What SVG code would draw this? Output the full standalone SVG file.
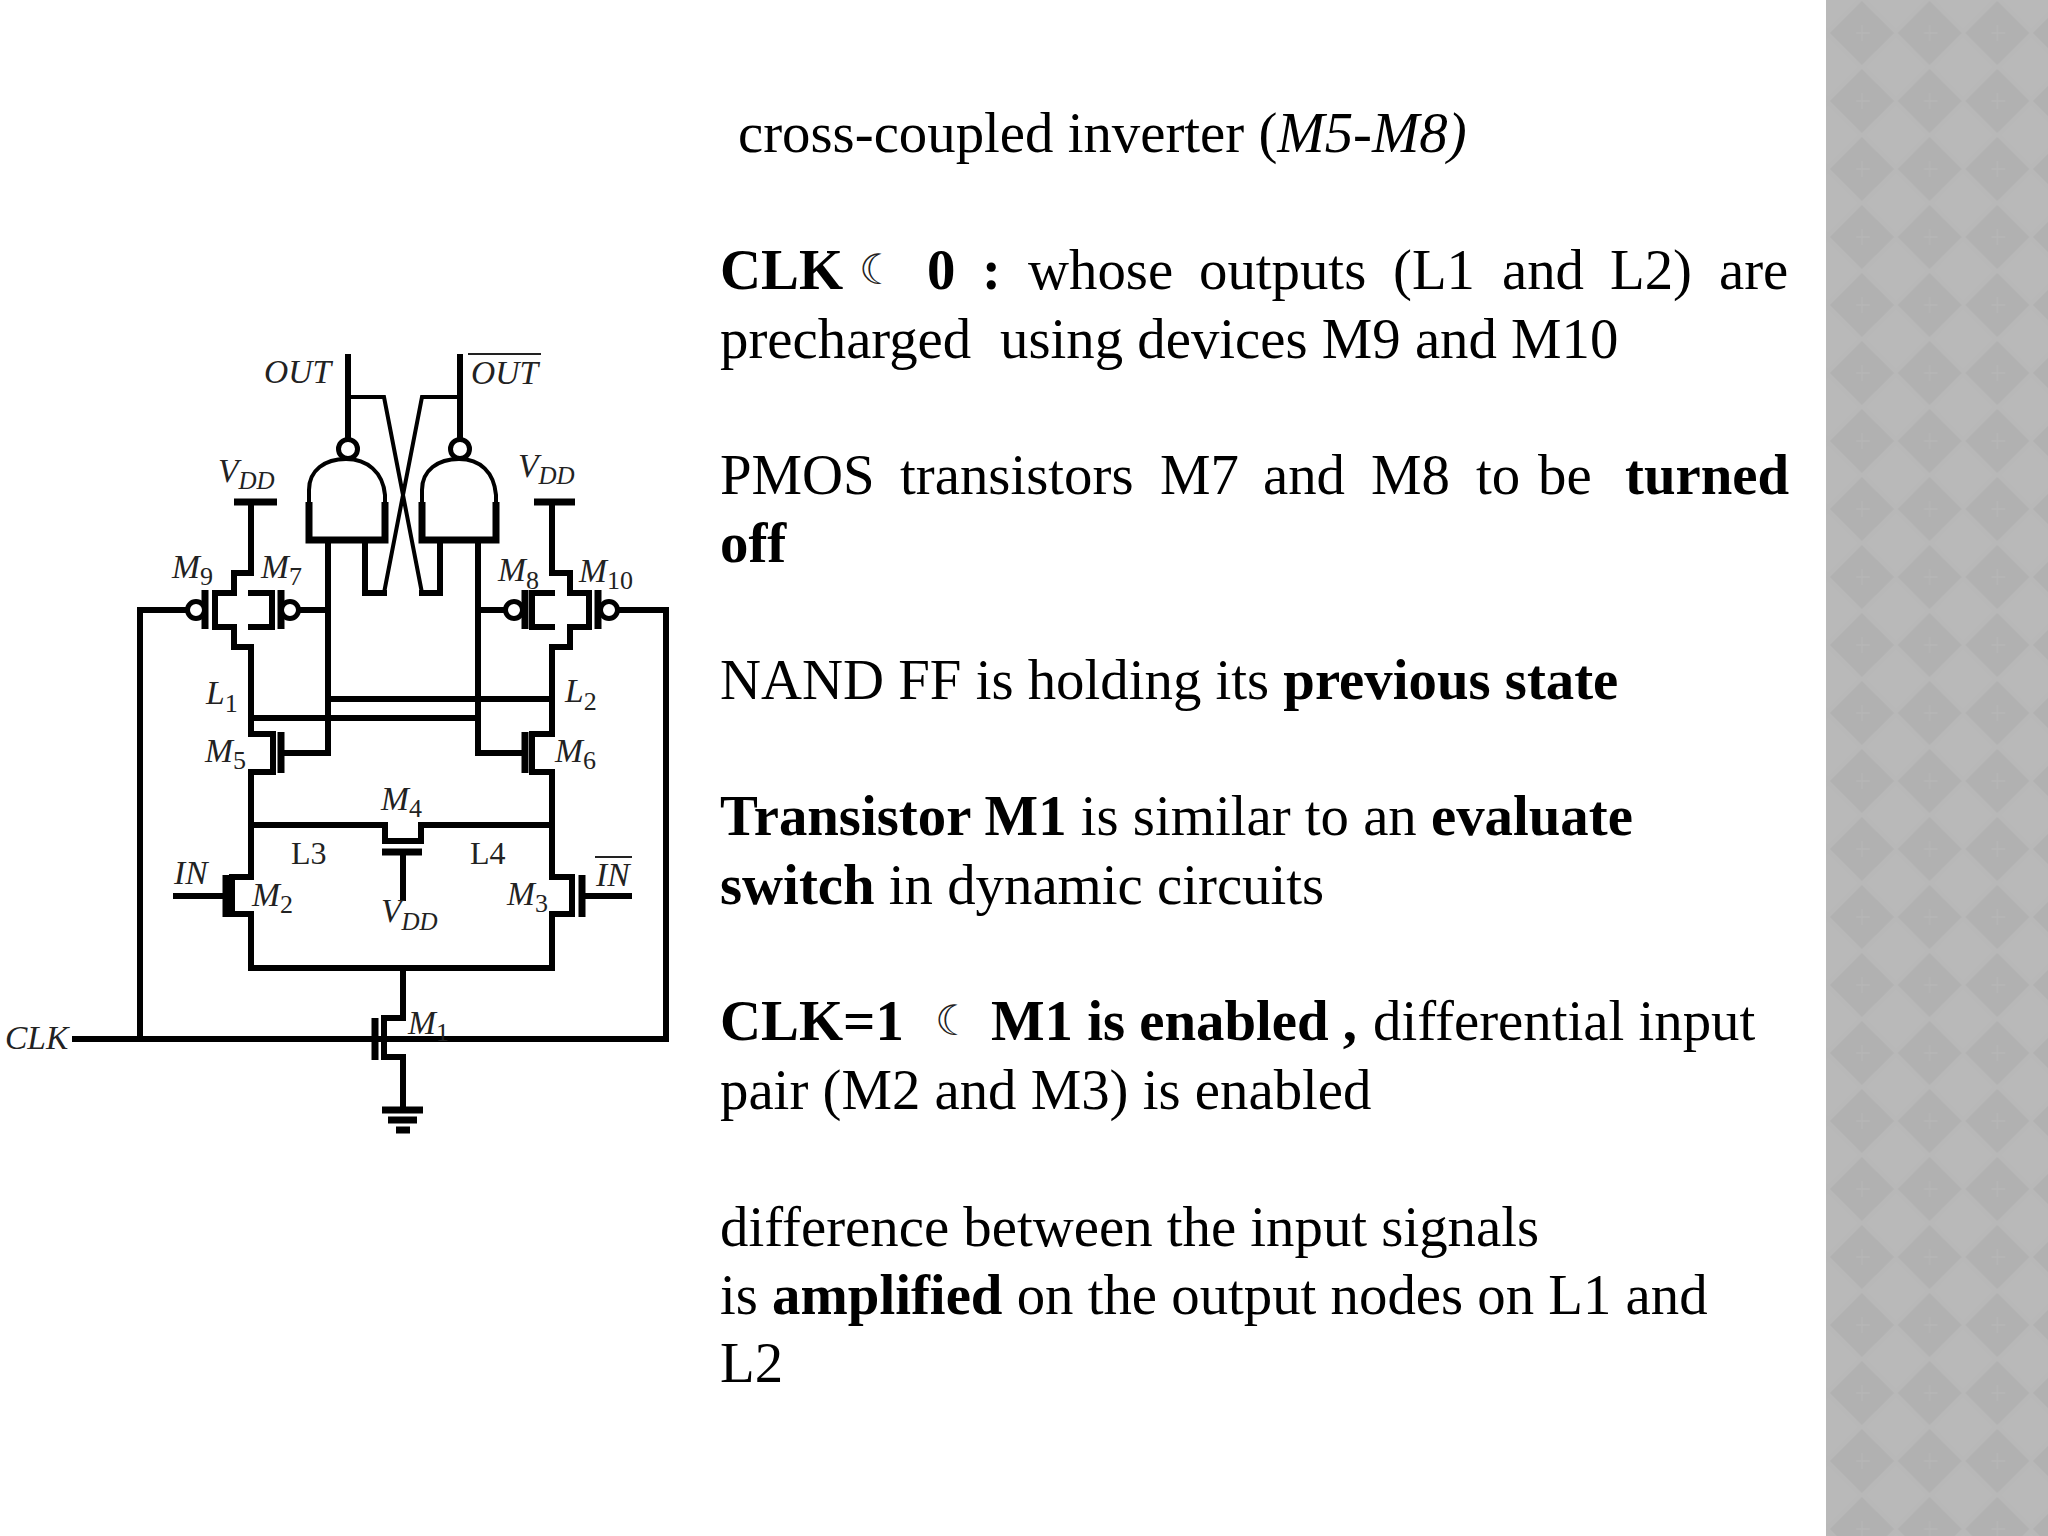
<svg xmlns="http://www.w3.org/2000/svg" width="2048" height="1536" viewBox="0 0 2048 1536">
<style>
.w{fill:none;stroke:#000;stroke-width:6;stroke-linecap:square;stroke-linejoin:miter}
.t{fill:none;stroke:#000;stroke-width:4}
.p{fill:none;stroke:#000;stroke-width:7}
.b{fill:#fff;stroke:#000;stroke-width:5}
.l{font-family:"Liberation Serif","Times New Roman",serif;font-style:italic;font-size:33.5px;fill:#222}
.s{font-size:25px}
.n{font-size:26px;font-style:normal}
.r{font-family:"Liberation Serif","Times New Roman",serif;font-size:32px;fill:#222}
.m{font-family:"Liberation Serif","Times New Roman",serif;font-size:56.8px;fill:#000}
.m .h{font-weight:bold}
.m .i{font-style:italic}
.moon{font-family:"DejaVu Sans",sans-serif;font-size:42px;fill:#222}
</style>
<defs>
<pattern id="dia" x="1828" y="-1" width="67.7" height="68" patternUnits="userSpaceOnUse">
<rect width="67.7" height="68" fill="#b8b8b8"/>
<path d="M33.8 2 L66 34 L33.8 66 L2 34Z" fill="#b1b1b1"/>
<path d="M0 -30 L30 0 L0 30 L-30 0ZM67.7 -30 L97 0 L67.7 30 L38 0ZM0 38 L30 68 L0 98 L-30 68ZM67.7 38 L97 68 L67.7 98 L38 68Z" fill="#b9b9b9"/>
<path d="M34 26V42M28 34H42" stroke="#b6b6b6" stroke-width="1.5" fill="none"/>
</pattern>
</defs>
<rect width="2048" height="1536" fill="#fff"/>
<rect id="panel" x="1826" y="0" width="222" height="1536" fill="url(#dia)"/>

<g id="connectors">
<path class="w" d="M348 357V440M460 357V440"/>
<path class="t" d="M348 397H384L422 593M460 397H422L384 593"/>
<path class="w" d="M365 540V593H384M440 540V593H422"/>
<path class="w" d="M328 540V753H281M478 540V753H525"/>
<path class="w" d="M251 502V573M552 502V573"/>
<path class="w" d="M251 647V734M552 647V734"/>
<path class="w" d="M328 699H552M251 718H478"/>
<path class="w" d="M251 772V877M552 772V877"/>
<path class="w" d="M251 825H385M421 825H552"/>
<path class="w" d="M251 914V968H552V914"/>
<path class="w" d="M403 968V1018M403 1057V1110"/>
<path class="w" d="M403 855V898"/>
<path class="w" d="M176 896H226M582 896H629"/>
<path class="w" d="M75 1039H664"/>
<path class="w" d="M140 1039V610H187M666 1039V610H618"/>
<path class="w" d="M299 610H328M478 610H505"/>
</g>

<g id="NAND1"><path class="t" d="M309 503V490C309 470 325 459 346 459C367 459 383 472 385 495V503"/><path class="p" d="M309 502V540H385V502"/><circle class="b" cx="348" cy="449" r="9.5"/></g>
<g id="NAND2"><path class="t" d="M422 503V490C422 470 438 459 459 459C480 459 494 472 496 495V503"/><path class="p" d="M422 502V540H496V502"/><circle class="b" cx="460" cy="449" r="9.5"/></g>

<g id="M9"><path class="w" d="M251 573H234V593H215V627H234V647H251"/><path class="p" d="M205 590V629"/><circle class="b" cx="196" cy="610" r="8.5"/><text class="l" x="172" y="578">M<tspan class="n" dy="7">9</tspan></text></g>
<g id="M7"><path class="w" d="M251 593H272V627H251"/><path class="p" d="M281 590V629"/><circle class="b" cx="290" cy="610" r="8.5"/><text class="l" x="261" y="578">M<tspan class="n" dy="7">7</tspan></text></g>
<g id="M8"><path class="w" d="M552 593H532V627H552"/><path class="p" d="M525 590V629"/><circle class="b" cx="514" cy="610" r="8.5"/><text class="l" x="498" y="581">M<tspan class="n" dy="8">8</tspan></text></g>
<g id="M10"><path class="w" d="M552 573H570V593H589V627H570V647H552"/><path class="p" d="M598 590V629"/><circle class="b" cx="609" cy="610" r="8.5"/><text class="l" x="579" y="582">M<tspan class="n" dy="7">10</tspan></text></g>
<g id="M5"><path class="w" d="M251 734H273V772H251"/><path class="p" d="M281 732V773"/><text class="l" x="205" y="762">M<tspan class="n" dy="7">5</tspan></text></g>
<g id="M6"><path class="w" d="M552 734H532V772H552"/><path class="p" d="M525 732V773"/><text class="l" x="555" y="762">M<tspan class="n" dy="7">6</tspan></text></g>
<g id="M4"><path class="w" d="M385 825V841H421V825"/><path class="p" d="M382 852H422"/><text class="l" x="381" y="810">M<tspan class="n" dy="7">4</tspan></text></g>
<g id="M2"><path class="w" d="M251 877H232V914H251"/><path class="p" d="M226 875V917"/><text class="l" x="252" y="906">M<tspan class="n" dy="7">2</tspan></text></g>
<g id="M3"><path class="w" d="M552 877H572V914H552"/><path class="p" d="M582 875V917"/><text class="l" x="507" y="905">M<tspan class="n" dy="7">3</tspan></text></g>
<g id="M1"><path class="w" d="M403 1018H384V1057H403"/><path class="p" d="M375 1018V1060"/><text class="l" x="408" y="1034">M<tspan class="n" dy="7">1</tspan></text></g>
<g id="VDD1"><path class="p" d="M234 502H277"/><text class="l" x="218" y="482">V<tspan class="s" dy="7">DD</tspan></text></g>
<g id="VDD2"><path class="p" d="M534 502H575"/><text class="l" x="518" y="477">V<tspan class="s" dy="7">DD</tspan></text></g>
<g id="VDD3"><text class="l" x="381" y="922">V<tspan class="s" dy="8">DD</tspan></text></g>
<g id="GND"><path class="p" d="M382 1110H423M388 1120H417M396 1130H410"/></g>
<g id="OUT"><text class="l" x="264" y="383">OUT</text></g>
<g id="OUTB"><text class="l" x="471" y="384">OUT</text><path d="M468 354H541" stroke="#222" stroke-width="2"/></g>
<g id="IN"><text class="l" x="174" y="884">IN</text></g>
<g id="INB"><text class="l" x="596" y="886">IN</text><path d="M595 857H632" stroke="#222" stroke-width="2"/></g>
<g id="CLK"><text class="l" x="5" y="1049">CLK</text></g>
<g id="L1"><text class="l" x="206" y="704">L<tspan class="n" dy="8">1</tspan></text></g>
<g id="L2"><text class="l" x="565" y="702">L<tspan class="n" dy="8">2</tspan></text></g>
<g id="L3"><text class="r" x="291" y="864">L3</text></g>
<g id="L4"><text class="r" x="470" y="864">L4</text></g>

<g id="body">
<text class="m" x="738" y="152">cross-coupled inverter (<tspan class="i">M5-M8)</tspan></text>
<text class="m" y="289"><tspan class="h" x="720">CLK</tspan><tspan class="h" x="927">0</tspan><tspan class="h" x="982">:</tspan><tspan x="1028">whose</tspan><tspan x="1199">outputs</tspan><tspan x="1393">(L1</tspan><tspan x="1502">and</tspan><tspan x="1610">L2)</tspan><tspan x="1719">are</tspan></text>
<text class="moon" x="859" y="284">☾</text>
<text class="m" y="358"><tspan x="720">precharged</tspan><tspan x="1000">using devices M9 and M10</tspan></text>
<text class="m" y="494"><tspan x="720">PMOS</tspan><tspan x="900">transistors</tspan><tspan x="1160">M7</tspan><tspan x="1263">and</tspan><tspan x="1371">M8</tspan><tspan x="1476">to</tspan><tspan x="1538">be</tspan><tspan class="h" x="1625">turned</tspan></text>
<text class="m" x="720" y="562"><tspan class="h">off</tspan></text>
<text class="m" x="720" y="699">NAND FF is holding its <tspan class="h">previous state</tspan></text>
<text class="m" x="720" y="835"><tspan class="h">Transistor M1</tspan> is similar to an <tspan class="h">evaluate</tspan></text>
<text class="m" x="720" y="904"><tspan class="h">switch</tspan> in dynamic circuits</text>
<text class="m" y="1040"><tspan class="h" x="720">CLK=1</tspan><tspan class="h" x="991">M1 is enabled ,</tspan><tspan x="1373">differential input</tspan></text>
<text class="moon" x="935" y="1035">☾</text>
<text class="m" x="720" y="1109">pair (M2 and M3) is enabled</text>
<text class="m" x="720" y="1246">difference between the input signals</text>
<text class="m" x="720" y="1314">is <tspan class="h">amplified</tspan> on the output nodes on L1 and</text>
<text class="m" x="720" y="1382">L2</text>
</g>
</svg>
